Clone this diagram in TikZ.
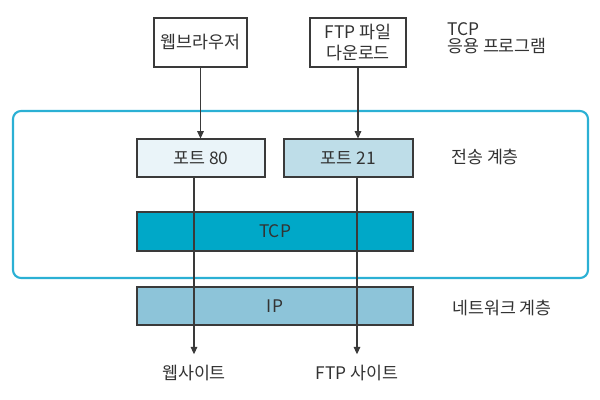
\documentclass[tikz,border=0pt]{standalone}
\usepackage{fontspec}
\setmainfont{Noto Sans CJK KR}
\usetikzlibrary{arrows.meta,calc}
\definecolor{txt}{HTML}{333333}
\definecolor{edge}{HTML}{3A3A3A}
\definecolor{frame}{HTML}{2BB0D4}
\definecolor{p80fill}{HTML}{EAF4F9}
\definecolor{p21fill}{HTML}{BEDDE8}
\definecolor{tcpfill}{HTML}{00A8C8}
\definecolor{ipfill}{HTML}{8DC4D9}
\tikzset{
  box/.style={draw=edge, line width=0.8pt, text=txt, inner sep=0pt, align=center,
    font=\fontsize{13}{15.5}\selectfont},
  lbl/.style={text=txt, inner sep=0pt, align=left, font=\fontsize{13}{12.5}\selectfont},
  conn/.style={draw=edge, line width=0.8pt, -{Triangle[width=5pt,length=5.5pt]}},
}
\begin{document}
\begin{tikzpicture}[x=0.75pt,y=-0.75pt]
\useasboundingbox (0,0) rectangle (600,400);
\draw[frame, line width=1.6pt, rounded corners=6pt] (13,111) rectangle (588,278);
\node[box, fill=white, minimum width=69.75pt, minimum height=36.75pt] (browser) at (200.5,42.5) {웹브라우저};
\node[box, fill=white, minimum width=72pt, minimum height=36.75pt] (ftp) at (358,42.5) {FTP 파일\\다운로드};
\node[box, fill=p80fill, minimum width=96pt, minimum height=28.5pt] (p80) at (201,158) {포트 80};
\node[box, fill=p21fill, minimum width=96.75pt, minimum height=28.5pt] (p21) at (348.5,158) {포트 21};
\node[box, fill=tcpfill, minimum width=207pt, minimum height=29.25pt] (tcp) at (275,231.5) {TCP};
\node[box, fill=ipfill, minimum width=207pt, minimum height=28.5pt] (ip) at (275,306) {IP};
\node[lbl, anchor=west] (app) at (447,38) {TCP\\응용 프로그램};
\node[lbl, anchor=west] (trans) at (451,157) {전송 계층};
\node[lbl, anchor=west] (net) at (452,308) {네트워크 계층};
\node[lbl] (site1) at (194,373) {웹사이트};
\node[lbl] (site2) at (357,373) {FTP 사이트};
\draw[conn] (browser.south) -- (browser.south |- p80.north);
\draw[conn] (ftp.south) -- (ftp.south |- p21.north);
\draw[conn, shorten >=8pt] (site1.north |- p80.south) -- (site1.north);
\draw[conn, shorten >=8pt] (site2.north |- p21.south) -- (site2.north);
\end{tikzpicture}
\end{document}
